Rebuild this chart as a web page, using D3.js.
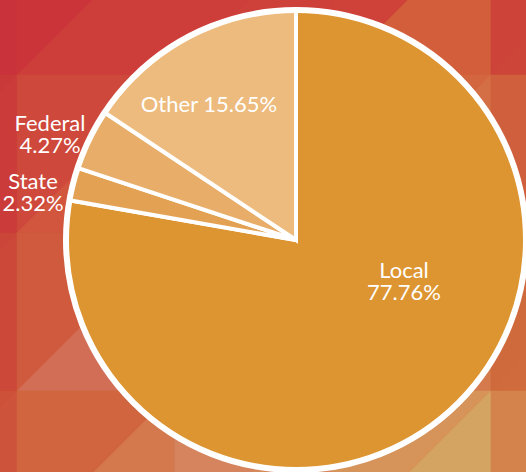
<!DOCTYPE html>
<html>
<head>
<meta charset="utf-8">
<script src="https://cdn.jsdelivr.net/npm/d3@7"></script>
<style>
  html, body { margin: 0; padding: 0; background: #cd4a3a; }
  svg { display: block; }
</style>
</head>
<body>
<svg id="chart" width="526" height="472"></svg>
<script>
// ---- data ----
const categories = ["Local", "State", "Federal", "Other"];
const values = [77.76, 2.32, 4.27, 15.65];
const valueLabels = ["77.76%", "2.32%", "4.27%", "15.65%"];

// ---- styles ----
const sliceColors = { Local: "#dd9531", State: "#e3a253", Federal: "#e8ad68", Other: "#edbb7d" };

const W = 526, H = 472;
const svg = d3.select("#chart");

// ---- decorative triangle-mosaic background ----
const cell = 158, gx0 = 17 - cell, gy0 = 75 - cell;
// [upper-left triangle, lower-right triangle] per cell, rows top->bottom, cols left->right
const bgColors = [
  [["#c8303a", "#c9323a"], ["#cb3539", "#cd3d3a"], ["#cd3e3a", "#ce403a"], ["#ce4239", "#d35e3b"], ["#cd4239", "#cd4439"]],
  [["#c9393a", "#ca3b3a"], ["#ce483b", "#d2553e"], ["#d05a3e", "#d3643f"], ["#d3653f", "#d36e45"], ["#d0603d", "#d0623d"]],
  [["#cb4538", "#cc4838"], ["#cf5a3e", "#d16e55"], ["#d06a42", "#d27248"], ["#d26c42", "#d47a4c"], ["#cf6a3c", "#cf6b3c"]],
  [["#cd5038", "#cd533a"], ["#d0653f", "#d3794d"], ["#d5845e", "#d68a5c"], ["#d6945a", "#d4a463"], ["#d5834c", "#d5834c"]]
];
const bg = svg.append("g");
bgColors.forEach((row, r) => {
  row.forEach((pair, c) => {
    const x0 = gx0 + c * cell, y0 = gy0 + r * cell, x1 = x0 + cell, y1 = y0 + cell;
    bg.append("polygon").attr("points", `${x0},${y0} ${x1},${y0} ${x0},${y1}`).attr("fill", pair[0]).attr("stroke", pair[0]).attr("stroke-width", 0.6);
    bg.append("polygon").attr("points", `${x1},${y0} ${x1},${y1} ${x0},${y1}`).attr("fill", pair[1]).attr("stroke", pair[1]).attr("stroke-width", 0.6);
  });
});

// ---- pie ----
const cx = 296, cy = 240, R = 230;
const data = categories.map((c, i) => ({ cat: c, value: values[i], label: valueLabels[i] }));
const pie = d3.pie().sort(null).value(d => d.value).startAngle(0).endAngle(2 * Math.PI);
const arc = d3.arc().innerRadius(0).outerRadius(R);
const g = svg.append("g").attr("transform", `translate(${cx},${cy})`);
g.selectAll("path.slice")
  .data(pie(data))
  .join("path")
  .attr("class", "slice")
  .attr("d", arc)
  .attr("fill", d => sliceColors[d.data.cat])
  .attr("stroke", "#ffffff")
  .attr("stroke-width", 4)
  .attr("stroke-linejoin", "miter");
g.append("circle").attr("r", R).attr("fill", "none").attr("stroke", "#ffffff").attr("stroke-width", 6);

// ---- labels ----
const labelLayout = {
  Local:   { x: 404, y: 278, twoLine: true },
  State:   { x: 33,  y: 189, twoLine: true },
  Federal: { x: 50,  y: 131, twoLine: true },
  Other:   { x: 209, y: 112, twoLine: false }
};
const labels = svg.append("g")
  .attr("font-family", "Lato, 'Open Sans', sans-serif")
  .attr("font-size", 22)
  .attr("fill", "#ffffff")
  .attr("text-anchor", "middle");
data.forEach(d => {
  const p = labelLayout[d.cat];
  const t = labels.append("text").attr("x", p.x).attr("y", p.y);
  if (p.twoLine) {
    t.append("tspan").attr("x", p.x).text(d.cat);
    t.append("tspan").attr("x", p.x).attr("dy", 22).text(d.label);
  } else {
    t.text(d.cat + " " + d.label);
  }
});
</script>
</body>
</html>
